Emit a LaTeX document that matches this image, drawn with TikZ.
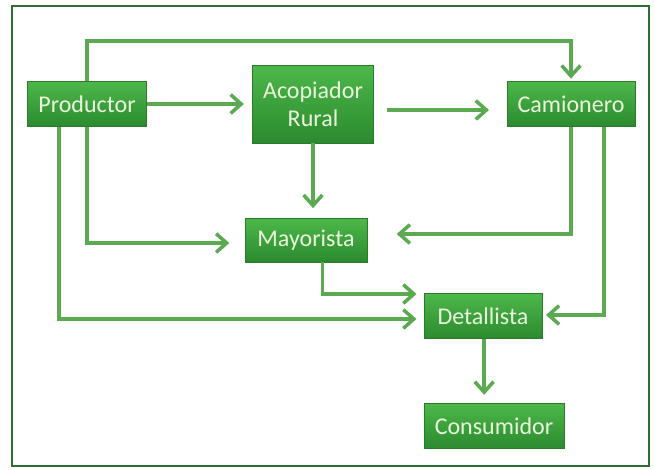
\documentclass[tikz,border=0pt]{standalone}
\usepackage{fontspec}
\setmainfont{Carlito}
\usepackage{tikz}
\usetikzlibrary{arrows.meta,positioning}
\definecolor{boxtop}{HTML}{4DB84A}
\definecolor{boxbot}{HTML}{2B8A2E}
\definecolor{boxline}{HTML}{2A7A2C}
\definecolor{flow}{HTML}{5BAA52}
\definecolor{frame}{HTML}{2F6E31}
\definecolor{label}{HTML}{EAF6DC}

\begin{document}
\begin{tikzpicture}[x=0.03cm,y=-0.03cm,
  font=\fontsize{20.5}{24}\selectfont,
  actor/.style={draw=boxline,line width=0.8pt,top color=boxtop,bottom color=boxbot,
    text=label,align=center,minimum height=1.35cm,inner sep=2pt},
  arr/.style={flow,line width=3.2pt,
    -{Straight Barb[length=9pt,width=16pt,line width=3pt]}}]
\useasboundingbox (0,0) rectangle (654,469);
\draw[frame,line width=2.4pt] (12,6) rectangle (649,466);
\node[actor,minimum width=3.57cm] (prod) at (87,104) {Productor};
\node[actor,minimum width=3.63cm,minimum height=2.34cm] (acop) at (313,104) {Acopiador\\Rural};
\node[actor,minimum width=3.84cm] (cam)  at (571,104) {Camionero};
\node[actor,minimum width=3.66cm,minimum height=1.32cm] (may)  at (306,240) {Mayorista};
\node[actor,minimum width=3.54cm] (det)  at (483,316) {Detallista};
\node[actor,minimum width=4.2cm]  (cons) at (494,426) {Consumidor};
% flows
\draw[arr] (prod.east) -- ([xshift=-7pt]acop.west|-prod.east);
\draw[arr] ([xshift=11pt]acop.east|-0,110) -- ([xshift=-15pt]cam.west|-0,110);
\draw[arr] (prod.north) -- (prod.north|-0,41) -| ([yshift=2pt]cam.north);
\draw[arr] (acop.south) -- ([yshift=8pt]acop.south|-may.north);
\draw[arr] (prod.south) |- ([xshift=-13pt]may.west|-0,243);
\draw[arr] (cam.south) |- ([xshift=25pt]may.east|-0,234);
\draw[arr] (prod.south west) ++(32,0) |- ([xshift=-6pt]det.west|-0,319);
\draw[arr] ([xshift=14pt]may.south) |- ([xshift=-6pt]det.west|-0,294);
\draw[arr] ([xshift=28pt]cam.south) |- ([xshift=3pt]det.east|-0,315);
\draw[arr] ([xshift=1pt]det.south) -- ([xshift=1pt,yshift=7pt]det.south|-cons.north);
\end{tikzpicture}
\end{document}
